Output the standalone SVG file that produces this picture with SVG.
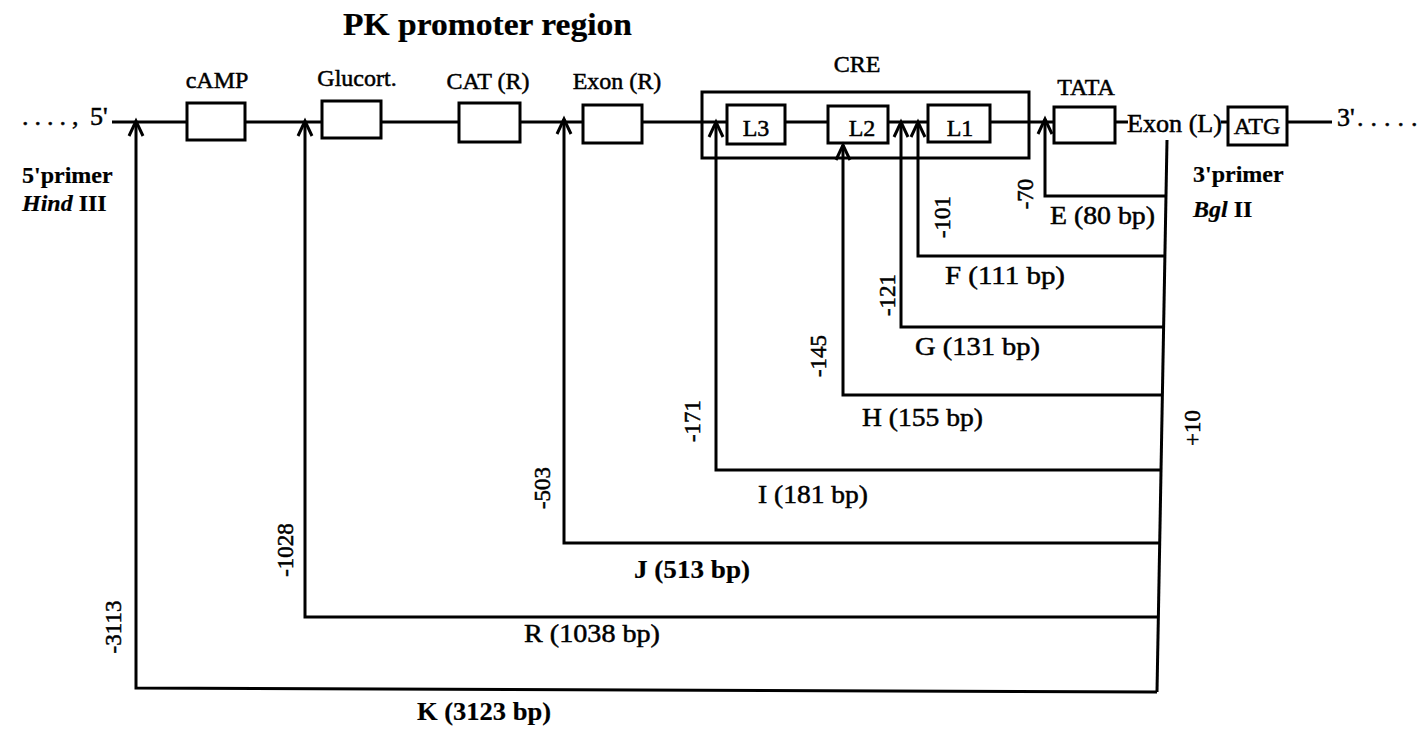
<svg xmlns="http://www.w3.org/2000/svg" width="1425" height="732" viewBox="0 0 1425 732">
<style>
text{font-family:"Liberation Serif","Times New Roman",serif;fill:#000;stroke:#000;stroke-width:0.5}
.lbl{font-size:24px}
.frag{font-size:26px}
.num{font-size:23px}
.bold{font-weight:bold;stroke-width:0.2}
.box{fill:#fff;stroke:#000;stroke-width:3}
.ln{fill:none;stroke:#000;stroke-width:3}
</style>
<defs>
<marker id="ah" markerUnits="userSpaceOnUse" markerWidth="24" markerHeight="24" viewBox="-18 -12 24 24" refX="0" refY="0" orient="auto-start-reverse" overflow="visible">
<path d="M-15,-7 L0,0 L-15,7" fill="none" stroke="#000" stroke-width="3"/>
</marker>
</defs>
<rect width="1425" height="732" fill="#fff"/>
<text x="343" y="35" class="bold" font-size="32" textLength="289" lengthAdjust="spacingAndGlyphs">PK promoter region</text>

<g id="backbone">
<line class="ln" x1="112" y1="122" x2="1128" y2="122"/>
<line class="ln" x1="1221" y1="122" x2="1332" y2="122"/>
<text x="22" y="125" font-size="26"><tspan letter-spacing="6">....,</tspan><tspan x="90">5'</tspan></text>
<text x="1337" y="126" font-size="26">3'<tspan x="1357" letter-spacing="7">.....</tspan></text>
</g>

<g id="cre">
<rect class="ln" x="702" y="92" width="327" height="66"/>
<text class="lbl" x="857" y="72" text-anchor="middle">CRE</text>
</g>

<g id="camp">
<rect class="box" x="187" y="103" width="58" height="37"/>
<text class="lbl" x="217" y="88" text-anchor="middle">cAMP</text>
</g>
<g id="glucort">
<rect class="box" x="322" y="101" width="59" height="37"/>
<text class="lbl" x="357" y="86" text-anchor="middle">Glucort.</text>
</g>
<g id="cat">
<rect class="box" x="459" y="103" width="61" height="39"/>
<text class="lbl" x="488" y="89" text-anchor="middle">CAT (R)</text>
</g>
<g id="exonR">
<rect class="box" x="583" y="105" width="59" height="38"/>
<text class="lbl" x="617" y="89" text-anchor="middle">Exon (R)</text>
</g>
<g id="L3">
<rect class="box" x="727" y="105" width="58" height="39"/>
<text class="lbl" x="756" y="136" text-anchor="middle">L3</text>
</g>
<g id="L2">
<rect class="box" x="828" y="106" width="60" height="37"/>
<text class="lbl" x="862" y="136" text-anchor="middle">L2</text>
</g>
<g id="L1">
<rect class="box" x="928" y="105" width="62" height="37"/>
<text class="lbl" x="960" y="136" text-anchor="middle">L1</text>
</g>
<g id="tata">
<rect class="box" x="1054" y="107" width="61" height="36"/>
<text class="lbl" x="1086" y="95" text-anchor="middle">TATA</text>
</g>
<g id="exonL">
<text x="1127" y="132" font-size="25" textLength="95" lengthAdjust="spacingAndGlyphs">Exon (L)</text>
</g>
<g id="atg">
<rect class="box" x="1228" y="107" width="59" height="38"/>
<text class="lbl" x="1257" y="134" text-anchor="middle">ATG</text>
</g>

<g id="primer5">
<text x="22" y="183" class="lbl bold">5'primer</text>
<text x="22" y="211" class="lbl bold"><tspan font-style="italic">Hind</tspan> III</text>
</g>
<g id="primer3">
<text x="1193" y="182" class="lbl bold">3'primer</text>
<text x="1193" y="217" class="lbl bold"><tspan font-style="italic">Bgl</tspan>  II</text>
</g>

<g id="connectors">
<path class="ln" d="M1167,140 L1157,692"/>
<path class="ln" marker-start="url(#ah)" d="M1045,119 L1045,196 L1167,196"/>
<path class="ln" marker-start="url(#ah)" d="M918,122 L918,256 L1166,256"/>
<path class="ln" marker-start="url(#ah)" d="M901,122 L901,327 L1165,327"/>
<path class="ln" marker-start="url(#ah)" d="M843,145 L843,395 L1163,395"/>
<path class="ln" marker-start="url(#ah)" d="M716,122 L716,470 L1162,470"/>
<path class="ln" marker-start="url(#ah)" d="M564,119 L564,543 L1160,543"/>
<path class="ln" marker-start="url(#ah)" d="M305,121 L305,617 L1158,617"/>
<path class="ln" marker-start="url(#ah)" d="M136,121 L136,688 L1157,692"/>
</g>

<g id="positions">
<text class="num" transform="rotate(-90 1033 194)" x="1033" y="194" text-anchor="middle">-70</text>
<text class="num" transform="rotate(-90 950 217)" x="950" y="217" text-anchor="middle">-101</text>
<text class="num" transform="rotate(-90 895 295)" x="895" y="295" text-anchor="middle">-121</text>
<text class="num" transform="rotate(-90 826 356)" x="826" y="356" text-anchor="middle">-145</text>
<text class="num" transform="rotate(-90 700 421)" x="700" y="421" text-anchor="middle">-171</text>
<text class="num" transform="rotate(-90 550 488)" x="550" y="488" text-anchor="middle">-503</text>
<text class="num" transform="rotate(-90 293 550)" x="293" y="550" text-anchor="middle">-1028</text>
<text class="num" transform="rotate(-90 121 627)" x="121" y="627" text-anchor="middle">-3113</text>
<text class="num" transform="rotate(-90 1200 428)" x="1200" y="428" text-anchor="middle">+10</text>
</g>

<g id="fragments">
<text class="frag" x="1050" y="224" textLength="105" lengthAdjust="spacingAndGlyphs">E (80 bp)</text>
<text class="frag" x="945" y="284" textLength="120" lengthAdjust="spacingAndGlyphs">F (111 bp)</text>
<text class="frag" x="915" y="355" textLength="125" lengthAdjust="spacingAndGlyphs">G (131 bp)</text>
<text class="frag" x="862" y="426" textLength="121" lengthAdjust="spacingAndGlyphs">H (155 bp)</text>
<text class="frag" x="758" y="503" textLength="110" lengthAdjust="spacingAndGlyphs">I (181 bp)</text>
<text class="frag bold" x="634" y="578" textLength="116" lengthAdjust="spacingAndGlyphs">J (513 bp)</text>
<text class="frag" x="524" y="642" textLength="136" lengthAdjust="spacingAndGlyphs">R (1038 bp)</text>
<text class="frag bold" x="417" y="720" textLength="134" lengthAdjust="spacingAndGlyphs">K (3123 bp)</text>
</g>
</svg>
